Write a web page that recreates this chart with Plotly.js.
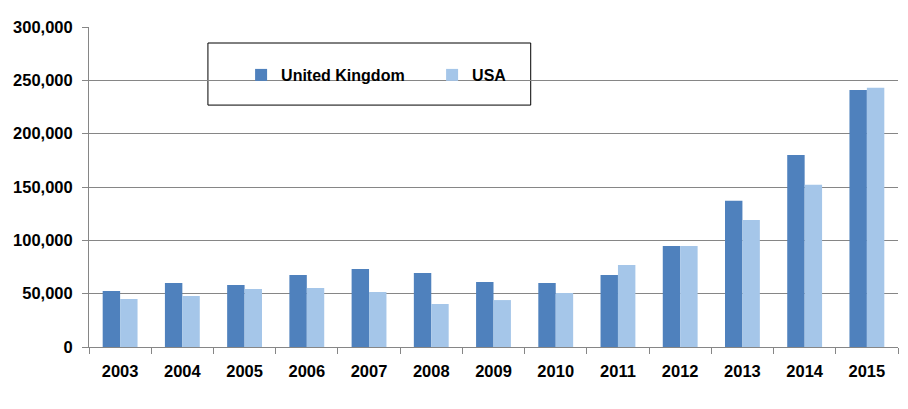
<!DOCTYPE html>
<html>
<head>
<meta charset="utf-8">
<script src="https://cdn.plot.ly/plotly-3.0.1.min.js"></script>
<style>
  html, body { margin: 0; padding: 0; background: #fff; }
  #chart { width: 908px; height: 409px; }
</style>
</head>
<body>
<div id="chart"></div>
<script>
// values
const years = ["2003", "2004", "2005", "2006", "2007", "2008", "2009",
               "2010", "2011", "2012", "2013", "2014", "2015"];
const ukValues = [52500, 60000, 58200, 67500, 73200, 69400, 61000,
                  60000, 67500, 94700, 137000, 180000, 241000];
const usaValues = [45000, 47800, 54400, 55300, 51600, 40300, 44000,
                   50700, 76900, 94700, 119000, 152000, 243000];

const FONT = "Liberation Sans, Arial, sans-serif";
const GRID = "#868686";
const labelFont = { family: FONT, size: 16.5, color: "#000", weight: "bold" };

const traces = [
  {
    type: "bar",
    name: "United Kingdom",
    x: years,
    y: ukValues,
    marker: { color: "#4F81BD" },
    hoverinfo: "x+y",
  },
  {
    type: "bar",
    name: "USA",
    x: years,
    y: usaValues,
    marker: { color: "#A5C6E9" },
    hoverinfo: "x+y",
  },
];

const layout = {
  width: 908,
  height: 409,
  margin: { l: 89, r: 10, t: 27, b: 62 },
  paper_bgcolor: "#fff",
  plot_bgcolor: "#fff",
  font: labelFont,
  barmode: "group",
  bargap: 0.44,
  bargroupgap: 0,
  xaxis: {
    type: "category",
    showline: true,
    linecolor: GRID,
    linewidth: 1,
    ticks: "outside",
    tickson: "boundaries",
    ticklen: 6,
    tickcolor: GRID,
    showgrid: false,
    ticklabelstandoff: 9,
    tickfont: labelFont,
  },
  yaxis: {
    range: [0, 300000],
    dtick: 50000,
    tickformat: ",",
    showline: true,
    linecolor: GRID,
    linewidth: 1,
    ticks: "outside",
    ticklen: 6,
    tickcolor: GRID,
    gridcolor: GRID,
    gridwidth: 1,
    zeroline: false,
    ticklabelstandoff: 6,
    tickfont: labelFont,
  },
  showlegend: true,
  legend: {
    orientation: "h",
    x: 0.188,
    y: 0.85,
    xanchor: "left",
    yanchor: "middle",
    bgcolor: "rgba(0,0,0,0)",
    borderwidth: 0,
    entrywidth: 146,
    entrywidthmode: "pixels",
    font: { family: FONT, size: 16, color: "#000", weight: "bold" },
  },
  shapes: [
    {
      type: "rect",
      xref: "paper",
      yref: "paper",
      x0: 0.147,
      x1: 0.546,
      y0: 0.756,
      y1: 0.95,
      line: { color: "#000", width: 1 },
      fillcolor: "#fff",
      layer: "below",
    },
  ],
};

Plotly.newPlot("chart", traces, layout, { displayModeBar: false, staticPlot: true });
</script>
</body>
</html>
